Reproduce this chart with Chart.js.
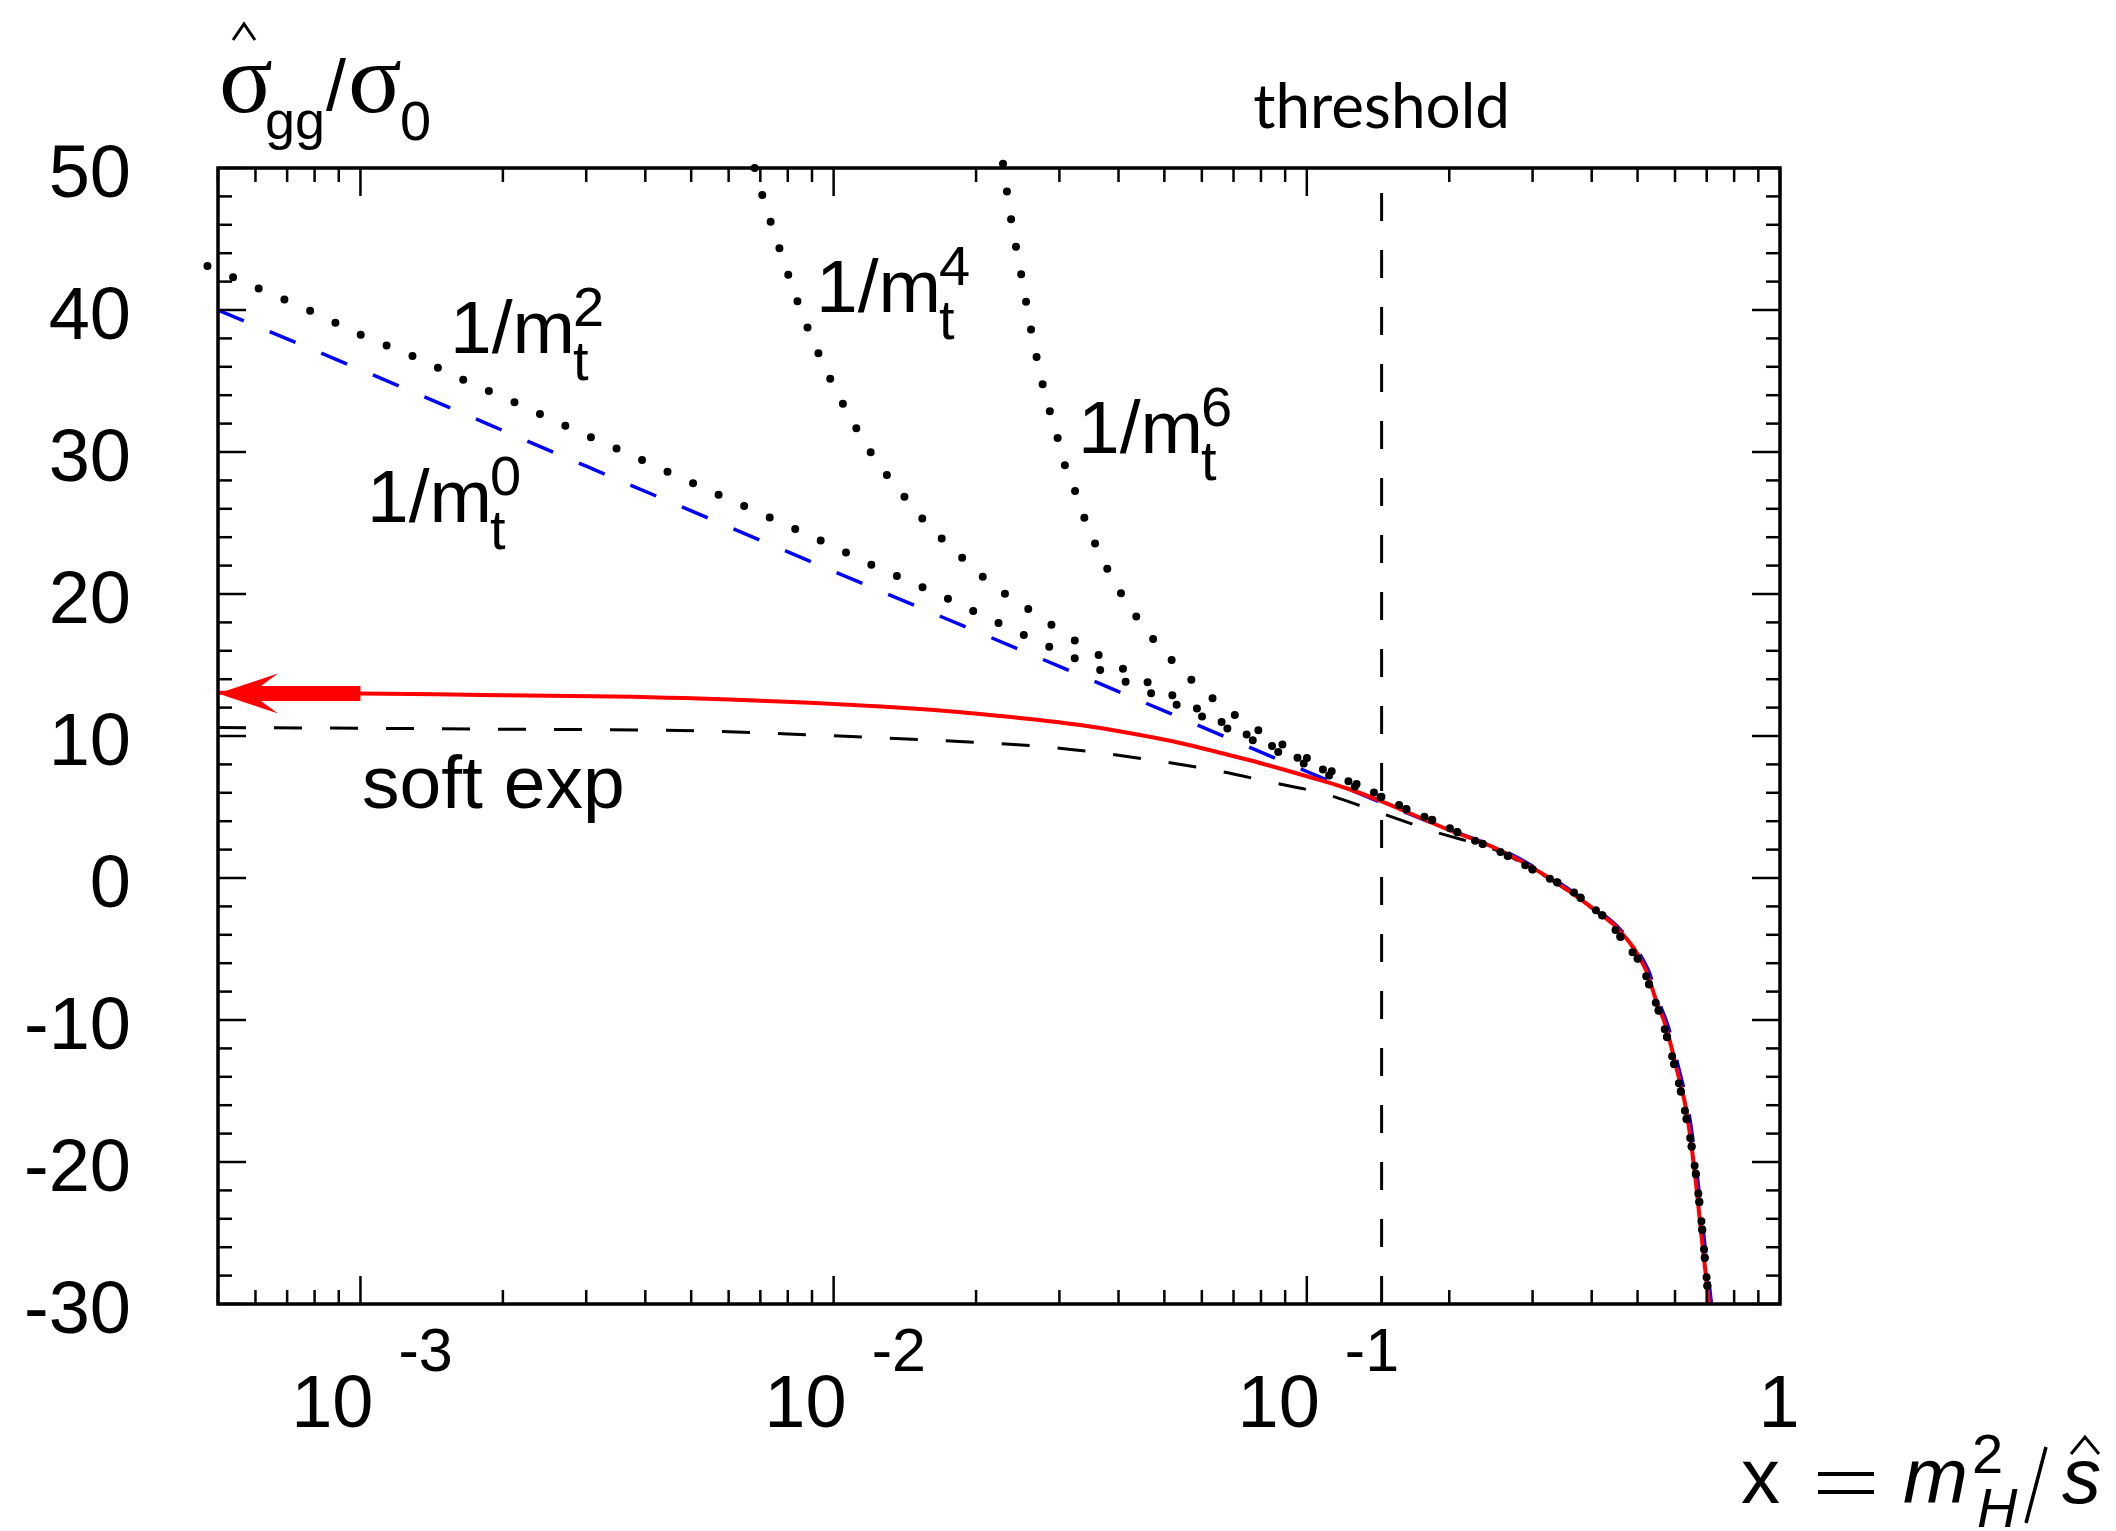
<!DOCTYPE html>
<html>
<head>
<meta charset="utf-8">
<title>sigma_gg / sigma_0</title>
<script src="https://cdn.jsdelivr.net/npm/chart.js@4.4.0/dist/chart.umd.min.js"></script>
<style>
  html, body { margin: 0; padding: 0; background: #fff; }
  canvas { display: block; }
</style>
</head>
<body>
<canvas id="myChart" width="2116" height="1531"></canvas>
<script>
// x = mH^2 / s_hat, y = sigma_gg / sigma_0

// full result (red)
let exactX = [0.0005, 0.001, 0.0018, 0.00343, 0.0064, 0.0126, 0.0204, 0.0332, 0.0424, 0.054, 0.0655, 0.0796, 0.103, 0.1213, 0.1426, 0.1974, 0.2553, 0.3255, 0.401, 0.457, 0.521, 0.547, 0.5746, 0.6033, 0.6334, 0.652, 0.668, 0.684, 0.708, 0.72];
let exactY = [13.05, 13.0, 12.89, 12.78, 12.54, 12.07, 11.55, 10.77, 10.19, 9.51, 8.82, 8.10, 7.04, 6.32, 5.45, 3.45, 1.97, 0.0, -2.11, -3.66, -6.48, -8.6, -10.5, -13.3, -16.3, -19.2, -22.2, -25.5, -29.9, -32];

// 1/mt^0 (blue dashed)
let m0X = [0.0005, 0.001, 0.003, 0.01, 0.03, 0.1, 0.1426, 0.2, 0.26, 0.33, 0.405, 0.462, 0.527, 0.553, 0.581, 0.61, 0.64, 0.659, 0.675, 0.692, 0.716, 0.73];
let m0Y = [40.0, 35.8, 29.0, 21.6, 14.9, 7.5, 5.35, 3.4, 1.95, 0.0, -2.1, -3.7, -6.5, -8.6, -10.5, -13.3, -16.3, -19.2, -22.2, -25.5, -29.9, -32];

// soft expansion (black dashed)
let softX = [0.0005, 0.0018, 0.0054, 0.0071, 0.0211, 0.0283, 0.0369, 0.0485, 0.0634, 0.0836, 0.109, 0.1412, 0.1845, 0.2553, 0.3255, 0.401, 0.457, 0.521, 0.547, 0.5746, 0.6033, 0.6334, 0.652, 0.668, 0.684, 0.708, 0.72];
let softY = [10.6, 10.49, 10.35, 10.21, 9.51, 9.23, 8.80, 8.24, 7.61, 6.76, 5.92, 4.65, 3.3, 1.85, -0.05, -2.15, -3.7, -6.5, -8.6, -10.5, -13.3, -16.3, -19.2, -22.2, -25.5, -29.9, -32];

// 1/mt^2, 1/mt^4, 1/mt^6 (dotted) before threshold
let m2X = [0.000475, 0.00061, 0.000789, 0.00101, 0.0013, 0.00167, 0.00215, 0.00277, 0.00356, 0.00457, 0.00589, 0.00755, 0.00976, 0.0125, 0.0161, 0.0206, 0.0264, 0.0342, 0.0438, 0.0564, 0.0723, 0.0929, 0.119, 0.151];
let m2Y = [43.1, 41.5, 39.9, 38.2, 36.7, 35.0, 33.4, 31.7, 30.1, 28.45, 26.8, 25.2, 23.5, 21.8, 20.2, 18.5, 16.8, 15.1, 13.45, 11.8, 10.1, 8.45, 6.8, 5.35];

let m4X = [0.00681, 0.00708, 0.00769, 0.00843, 0.00933, 0.01054, 0.01213, 0.01439, 0.0157, 0.0173, 0.0192, 0.0212, 0.0267, 0.0335, 0.0426, 0.0542, 0.0695, 0.0889, 0.1146, 0.1476];
let m4Y = [50.0, 48.0, 44.3, 40.4, 36.8, 33.2, 29.7, 26.5, 25.0, 23.6, 22.2, 20.9, 18.6, 16.4, 14.4, 12.55, 10.6, 8.95, 7.25, 5.6];

let m6X = [0.0228, 0.02374, 0.02495, 0.02618, 0.02773, 0.02985, 0.03105, 0.0326, 0.0342, 0.0384, 0.0445, 0.053, 0.0652, 0.0818, 0.104, 0.134];
let m6Y = [50.3, 46.3, 42.4, 38.5, 34.6, 30.8, 28.7, 27.0, 25.0, 21.4, 18.0, 15.0, 12.3, 10.1, 8.15, 6.25];

// dotted curves above threshold (they all lie on top of each other)
let tailX = [0.1674, 0.1909, 0.2177, 0.2466, 0.281, 0.3148, 0.3553, 0.3955, 0.4355, 0.473, 0.509, 0.537, 0.569, 0.589, 0.627, 0.659, 0.681, 0.698, 0.708];
let tailY = [4.65, 3.87, 2.89, 2.11, 1.13, 0.21, -0.70, -1.90, -3.1, -4.7, -6.1, -8.1, -10.5, -12.3, -16.1, -20.1, -23.9, -27.8, -29.9];

let thresholdX = 0.1439;
let arrowX = [0.001, 0.0005];
let arrowY = 13.0;

let yTicks = [50, 40, 30, 20, 10, 0, -10, -20, -30];
let xTicks = [0.001, 0.01, 0.1, 1];
let xTickExp = ["-3", "-2", "-1", ""];

function pts(xs, ys) {
    return xs.map(function(v, i) { return {x: v, y: ys[i]}; });
}

const SANS = '"Liberation Sans", Arial, Helvetica, sans-serif';
const SERIF = '"Liberation Serif", "Times New Roman", serif';

function mtLabel(ctx, x, base, sup) {
    ctx.font = '75px ' + SANS;
    ctx.textAlign = 'left';
    ctx.textBaseline = 'alphabetic';
    ctx.fillText('1/m', x, base);
    let w = ctx.measureText('1/m').width;
    ctx.font = '56px ' + SANS;
    ctx.fillText(sup, x + w - 2, base - 27);
    ctx.fillText('t', x + w - 2, base + 27);
}

function seg(ctx, x1, y1, x2, y2) {
    ctx.beginPath();
    ctx.moveTo(x1, y1);
    ctx.lineTo(x2, y2);
    ctx.stroke();
}

const decorations = {
    id: 'decorations',
    afterDatasetsDraw(chart) {
        const ctx = chart.ctx;
        const xs = chart.scales.x, ys = chart.scales.y;
        // red arrow towards x -> 0
        let x0 = xs.getPixelForValue(arrowX[0]);
        let tip = xs.getPixelForValue(arrowX[1]);
        let py = ys.getPixelForValue(arrowY);
        ctx.save();
        ctx.fillStyle = '#ff0000';
        ctx.beginPath();
        ctx.moveTo(tip, py);
        ctx.lineTo(tip + 60, py - 20);
        ctx.lineTo(tip + 43, py - 7.5);
        ctx.lineTo(x0, py - 7.5);
        ctx.lineTo(x0, py + 7.5);
        ctx.lineTo(tip + 43, py + 7.5);
        ctx.lineTo(tip + 60, py + 20);
        ctx.closePath();
        ctx.fill();
        ctx.restore();
    },
    afterDraw(chart) {
        const ctx = chart.ctx;
        const a = chart.chartArea;
        const xs = chart.scales.x, ys = chart.scales.y;
        ctx.save();
        ctx.strokeStyle = '#000';
        ctx.fillStyle = '#000';
        ctx.lineCap = 'butt';

        // ticks, pointing inwards, on all four sides
        ctx.lineWidth = 2.5;
        for (let e = -4; e <= 0; e++) {
            for (let m = 1; m <= 9; m++) {
                let v = m * Math.pow(10, e);
                if (v < xs.min * 0.999 || v > xs.max * 1.001) continue;
                let px = xs.getPixelForValue(v);
                let len = m === 1 ? 28 : 14;
                seg(ctx, px, a.bottom, px, a.bottom - len);
                seg(ctx, px, a.top, px, a.top + len);
            }
        }
        for (let v = -30; v <= 50; v += 2) {
            let py = ys.getPixelForValue(v);
            let len = v % 10 === 0 ? 28 : 14;
            seg(ctx, a.left, py, a.left + len, py);
            seg(ctx, a.right, py, a.right - len, py);
        }

        // frame
        ctx.lineWidth = 3.5;
        ctx.strokeRect(a.left, a.top, a.right - a.left, a.bottom - a.top);

        // y tick labels
        ctx.font = '74px ' + SANS;
        ctx.textAlign = 'right';
        ctx.textBaseline = 'alphabetic';
        yTicks.forEach(function(v) {
            ctx.fillText(String(v), a.left - 87, ys.getPixelForValue(v) + 29);
        });

        // x tick labels: 10 with exponent
        xTicks.forEach(function(v, i) {
            let px = xs.getPixelForValue(v);
            if (xTickExp[i] === '') {
                ctx.font = '74px ' + SANS;
                ctx.textAlign = 'center';
                ctx.fillText('1', px - 1, a.bottom + 123);
            } else {
                ctx.font = '74px ' + SANS;
                ctx.textAlign = 'right';
                ctx.fillText('10', px + 13, a.bottom + 123);
                ctx.font = '61px ' + SANS;
                ctx.textAlign = 'left';
                ctx.fillText(xTickExp[i], px + 38, a.bottom + 67);
            }
        });

        // y axis title: sigma-hat_gg / sigma_0
        ctx.textAlign = 'left';
        ctx.font = '100px ' + SERIF;
        ctx.fillText('\u03c3', 219, 112);
        ctx.fillText('\u03c3', 348, 112);
        ctx.font = '54px ' + SANS;
        ctx.fillText('gg', 265, 139);
        ctx.font = '56px ' + SANS;
        ctx.fillText('0', 400, 140);
        ctx.font = '72px ' + SANS;
        ctx.fillText('/', 326, 110);
        ctx.lineWidth = 3;
        ctx.beginPath();
        ctx.moveTo(233, 40);
        ctx.lineTo(244, 24);
        ctx.lineTo(255, 40);
        ctx.stroke();

        // x axis title: x = m_H^2 / s-hat
        ctx.font = '78px ' + SANS;
        ctx.fillText('x', 1741, 1503);
        ctx.lineWidth = 4;
        seg(ctx, 1818, 1474, 1874, 1474);
        seg(ctx, 1818, 1492, 1874, 1492);
        ctx.font = 'italic 78px ' + SANS;
        ctx.fillText('m', 1903, 1503);
        ctx.font = '56px ' + SANS;
        ctx.fillText('2', 1972, 1473);
        ctx.font = 'italic 56px ' + SANS;
        ctx.fillText('H', 1977, 1527);
        ctx.lineWidth = 3.5;
        seg(ctx, 2026, 1523, 2046, 1447);
        ctx.font = 'italic 78px ' + SANS;
        ctx.fillText('s', 2062, 1503);
        ctx.lineWidth = 3;
        ctx.beginPath();
        ctx.moveTo(2071, 1454);
        ctx.lineTo(2085, 1437);
        ctx.lineTo(2099, 1454);
        ctx.stroke();

        // curve labels
        mtLabel(ctx, 450, 353, '2');
        mtLabel(ctx, 367, 522, '0');
        mtLabel(ctx, 816, 312, '4');
        mtLabel(ctx, 1078, 453, '6');

        ctx.font = '75px ' + SANS;
        ctx.textAlign = 'left';
        ctx.fillText('soft exp', 362, 808);

        ctx.font = '62px Lato, "Open Sans", sans-serif';
        ctx.textAlign = 'center';
        ctx.fillText('threshold', xs.getPixelForValue(thresholdX), 128);

        ctx.restore();
    }
};

function dotted(xs, ys) {
    return {
        data: pts(xs.concat(tailX), ys.concat(tailY)),
        borderColor: '#000',
        borderWidth: 8,
        borderDash: [0, 28],
        borderCapStyle: 'round',
        clip: false,
        pointRadius: 0,
        cubicInterpolationMode: 'monotone',
        fill: false
    };
}

document.addEventListener("DOMContentLoaded", function() {
    var ctx = document.getElementById("myChart").getContext("2d");
    var myChart = new Chart(ctx, {
        type: 'line',
        data: {
            datasets: [
                dotted(m2X, m2Y),
                dotted(m4X, m4Y),
                dotted(m6X, m6Y),
                {
                    label: 'exact',
                    data: pts(exactX, exactY),
                    borderColor: '#ff0000',
                    borderWidth: 4,
                    pointRadius: 0,
                    cubicInterpolationMode: 'monotone',
                    fill: false
                },
                {
                    label: 'soft exp',
                    data: pts(softX, softY),
                    borderColor: '#000',
                    borderWidth: 3,
                    borderDash: [28, 28],
                    pointRadius: 0,
                    cubicInterpolationMode: 'monotone',
                    fill: false
                },
                {
                    label: '1/mt^0',
                    data: pts(m0X, m0Y),
                    borderColor: '#0000ff',
                    borderWidth: 3.5,
                    borderDash: [28, 28],
                    pointRadius: 0,
                    cubicInterpolationMode: 'monotone',
                    fill: false
                },
                {
                    label: 'threshold',
                    data: [{x: thresholdX, y: -30}, {x: thresholdX, y: 50}],
                    borderColor: '#000',
                    borderWidth: 3,
                    borderDash: [28, 29],
                    pointRadius: 0,
                    fill: false
                }
            ]
        },
        options: {
            responsive: false,
            devicePixelRatio: 1,
            animation: false,
            events: [],
            layout: { padding: { left: 218, top: 168, right: 336, bottom: 227 } },
            plugins: {
                legend: { display: false },
                tooltip: { enabled: false }
            },
            scales: {
                x: { type: 'logarithmic', min: 0.0005, max: 1, display: false },
                y: { type: 'linear', min: -30, max: 50, display: false }
            }
        },
        plugins: [decorations]
    });
});
</script>
</body>
</html>
